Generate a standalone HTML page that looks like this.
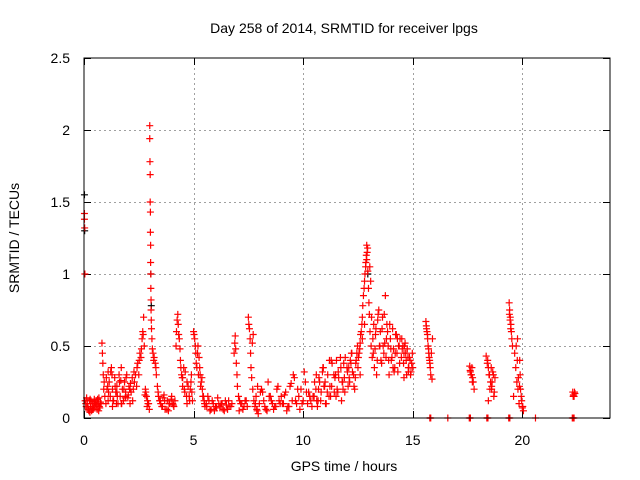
<!DOCTYPE html>
<html><head><meta charset="utf-8"><style>
body{margin:0;background:#fff}
svg{display:block;font-family:"Liberation Sans",sans-serif}
</style></head><body>
<svg id="chart" width="640" height="480" xmlns="http://www.w3.org/2000/svg">
<text x="344" y="33" font-size="14" text-anchor="middle" fill="#000">Day 258 of 2014, SRMTID for receiver lpgs</text>
<text x="0" y="0" font-size="14" text-anchor="middle" transform="translate(19,238) rotate(-90)">SRMTID / TECUs</text>
<text x="344" y="471" font-size="14" text-anchor="middle">GPS time / hours</text>
<g id="grid"></g>
<g id="ticks"></g>
<g id="black"></g>
<g id="red"></g>
<rect x="84" y="58" width="526" height="360" fill="none" stroke="#000" stroke-width="1"/>
</svg>
<script>
const xTicks=[0,5,10,15,20];
const yTicks=[0,0.5,1,1.5,2,2.5];
const yTickLabels=["0","0.5","1","1.5","2","2.5"];
const redTimes=[0.02,0.02,0.03,0.04,0.05,0.1,0.15,0.2,0.25,0.3,0.35,0.4,0.45,0.5,0.55,0.6,0.65,0.7,0.75,0.12,0.22,0.32,0.42,0.52,0.62,0.72,
0.82,0.84,0.86,0.88,0.9,0.92,0.95,1.0,1.05,1.1,1.15,1.2,1.25,1.3,1.35,1.4,1.45,1.5,1.55,1.6,1.65,1.7,1.75,1.8,1.85,1.9,1.95,2.0,2.05,2.1,2.15,2.2,2.25,1.1,1.3,1.5,1.7,1.9,2.1,
2.3,2.35,2.4,2.45,2.5,2.55,2.6,2.65,2.7,2.72,2.75,2.8,2.85,2.9,2.95,2.78,2.88,
3.0,3.0,3.01,3.02,3.02,3.03,3.03,3.04,3.04,3.05,3.05,3.06,3.06,3.07,3.08,3.1,
3.15,3.2,3.25,3.3,3.35,3.4,3.45,3.5,3.55,3.6,3.7,3.8,3.9,4.0,4.1,4.15,3.65,3.85,4.05,
4.2,4.22,4.25,4.28,4.3,4.32,4.35,4.4,4.45,4.5,4.55,4.6,4.7,4.8,4.9,4.95,4.5,4.7,4.85,
5.0,5.05,5.1,5.15,5.2,5.25,5.3,5.35,5.4,5.45,5.5,5.6,5.7,5.8,5.9,6.0,6.1,6.2,6.3,6.4,6.5,6.6,6.7,5.65,5.95,6.25,6.55,
6.85,6.88,6.9,6.92,6.95,6.98,7.0,7.05,7.1,7.2,7.3,7.4,
7.5,7.52,7.55,7.58,7.6,7.62,7.65,7.7,7.75,7.8,7.85,7.9,8.0,8.1,8.2,8.3,8.4,8.5,8.6,8.7,8.8,8.9,9.0,7.95,8.15,8.35,8.55,8.75,8.95,
9.1,9.2,9.3,9.4,9.5,9.6,9.7,9.8,9.9,10.0,10.1,10.2,10.3,10.4,9.25,9.55,9.85,10.15,10.35,
10.5,10.6,10.7,10.8,10.9,11.0,11.1,11.2,11.3,11.4,11.5,11.6,11.7,11.8,11.9,12.0,12.1,12.2,12.3,12.4,10.65,10.95,11.25,11.55,11.85,12.15,12.35,10.75,11.05,11.45,11.75,12.05,12.25,
12.5,12.55,12.6,12.65,12.7,12.75,12.8,12.85,12.88,12.9,12.92,12.95,12.98,13.0,13.02,13.05,13.1,13.15,12.6,12.7,12.8,
13.2,13.3,13.4,13.5,13.6,13.7,13.8,13.9,14.0,14.1,14.2,14.3,14.4,13.25,13.45,13.65,13.75,13.85,14.05,14.25,13.35,13.55,13.95,14.15,14.35,
14.5,14.55,14.6,14.65,14.7,14.75,14.8,14.85,14.9,14.95,15.0,14.6,14.8,
15.6,15.62,15.65,15.68,15.7,15.72,15.75,15.78,15.8,15.82,15.85,15.88,15.9,
17.6,17.63,17.66,17.7,17.73,17.76,17.8,
18.35,18.4,18.45,18.5,18.55,18.6,18.65,18.7,18.75,18.45,18.6,
19.4,19.42,19.45,19.48,19.5,19.52,19.55,19.6,19.65,19.7,19.75,19.8,19.85,19.9,19.95,20.0,20.05,19.78,19.88,
22.3,22.33,22.36,22.4,
15.78,15.8,15.82,17.58,17.6,17.63,18.38,18.4,18.43,19.38,19.4,19.43,22.28,22.3,22.33,22.36,16.6,20.6];
const redValues=[1.42,1.38,1.32,1.0,0.12,0.08,0.1,0.06,0.12,0.08,0.05,0.1,0.07,0.09,0.12,0.06,0.1,0.08,0.11,0.14,0.05,0.12,0.06,0.1,0.13,0.07,
0.52,0.45,0.38,0.3,0.2,0.25,0.15,0.1,0.2,0.32,0.25,0.15,0.35,0.2,0.12,0.28,0.18,0.22,0.1,0.3,0.15,0.35,0.2,0.12,0.25,0.18,0.3,0.14,0.22,0.1,0.18,0.28,0.2,0.12,0.08,0.18,0.1,0.15,0.2,
0.25,0.3,0.22,0.38,0.3,0.45,0.42,0.55,0.58,0.7,0.5,0.2,0.15,0.12,0.1,0.16,0.08,
2.03,1.94,1.78,1.69,1.5,1.43,1.29,1.2,1.08,1.0,0.9,0.82,0.75,0.68,0.62,0.55,
0.45,0.42,0.38,0.3,0.22,0.15,0.12,0.1,0.08,0.14,0.06,0.12,0.1,0.15,0.08,0.12,0.16,0.05,0.1,
0.5,0.6,0.68,0.72,0.65,0.58,0.55,0.4,0.3,0.22,0.35,0.18,0.25,0.15,0.3,0.12,0.28,0.1,0.2,
0.6,0.55,0.45,0.35,0.5,0.42,0.3,0.25,0.2,0.15,0.1,0.08,0.12,0.06,0.1,0.08,0.14,0.07,0.1,0.05,0.09,0.12,0.08,0.15,0.05,0.1,0.06,
0.45,0.52,0.57,0.48,0.38,0.3,0.22,0.15,0.12,0.1,0.08,0.12,
0.7,0.65,0.62,0.55,0.45,0.35,0.28,0.2,0.12,0.08,0.15,0.05,0.1,0.2,0.12,0.06,0.25,0.15,0.1,0.08,0.2,0.12,0.15,0.03,0.18,0.05,0.12,0.08,0.1,
0.1,0.18,0.08,0.22,0.12,0.28,0.1,0.15,0.2,0.12,0.25,0.1,0.15,0.08,0.05,0.3,0.06,0.18,0.12,
0.15,0.3,0.2,0.12,0.35,0.25,0.18,0.4,0.22,0.3,0.15,0.32,0.42,0.25,0.18,0.35,0.28,0.45,0.3,0.38,0.08,0.22,0.15,0.2,0.38,0.4,0.2,0.25,0.1,0.28,0.12,0.22,0.32,
0.35,0.45,0.52,0.6,0.7,0.85,0.95,1.05,1.13,1.2,1.15,1.02,0.9,0.8,0.72,0.6,0.5,0.42,0.3,0.55,0.65,
0.45,0.58,0.68,0.5,0.62,0.72,0.55,0.4,0.48,0.35,0.45,0.55,0.38,0.35,0.75,0.5,0.85,0.6,0.42,0.58,0.3,0.4,0.65,0.32,0.5,
0.55,0.5,0.45,0.52,0.4,0.48,0.35,0.42,0.3,0.38,0.35,0.28,0.32,
0.67,0.64,0.6,0.55,0.5,0.48,0.42,0.38,0.35,0.3,0.45,0.27,0.55,
0.36,0.32,0.3,0.35,0.28,0.25,0.2,
0.43,0.38,0.35,0.3,0.25,0.2,0.32,0.15,0.28,0.12,0.22,
0.8,0.75,0.7,0.65,0.6,0.55,0.5,0.15,0.45,0.35,0.25,0.2,0.1,0.3,0.15,0.07,0.05,0.55,0.4,
0.18,0.16,0.15,0.17,
0,0,0,0,0,0,0,0,0,0,0,0,0,0,0,0,0,0];
const extraTimes=[0.08,0.18,0.28,0.38,0.48,0.58,0.68,0.78,0.27,0.47,0.67,
1.02,1.12,1.22,1.32,1.42,1.52,1.62,1.72,1.82,1.92,2.02,2.12,2.22,1.08,1.28,1.48,1.68,1.88,2.08,2.28,
2.42,2.52,2.62,2.68,2.82,2.92,2.98,3.12,3.18,3.28,3.38,3.48,3.58,3.68,3.78,3.88,3.98,4.08,
4.38,4.42,4.48,4.58,4.62,4.68,4.75,4.82,4.88,4.92,5.02,5.08,5.12,5.18,5.22,5.28,5.32,5.38,5.42,5.48,5.52,5.58,5.75,5.85,6.05,6.15,6.35,6.45,6.62,6.75,
7.08,7.15,7.25,7.35,7.45,7.68,7.72,7.82,7.88,7.92,8.05,8.25,8.45,8.65,8.85,9.05,9.15,9.35,9.45,9.65,9.75,9.95,10.05,10.25,10.45,
10.52,10.62,10.72,10.82,10.92,11.02,11.12,11.22,11.32,11.42,11.52,11.62,11.72,11.82,11.92,12.02,12.12,12.22,12.32,12.42,12.48,
10.58,10.88,11.18,11.48,11.78,12.08,12.38,10.68,10.98,11.28,11.58,11.88,12.18,12.45,
12.52,12.58,12.62,12.68,12.72,12.78,12.82,12.86,12.9,12.94,13.04,13.08,13.12,13.18,13.22,13.28,13.32,13.38,13.42,13.48,13.52,13.58,13.62,13.68,13.72,13.78,13.82,13.88,13.92,13.98,14.02,14.08,14.12,14.18,14.22,14.28,14.32,14.38,14.42,14.48,14.52,14.58,14.62,14.68,14.72,14.78,14.82,14.88,14.92,14.98,
15.63,15.67,15.73,15.77,17.62,17.68,17.72,18.42,18.48,18.52,18.58,18.62,18.68,18.72,19.41,19.44,19.47,19.72,19.77,19.82,19.87,19.92,19.97,20.02,22.32,22.38];
const extraValues=[0.1,0.07,0.13,0.06,0.11,0.09,0.14,0.1,0.04,0.13,0.05,
0.28,0.18,0.32,0.12,0.22,0.15,0.25,0.1,0.2,0.28,0.16,0.24,0.12,0.22,0.3,0.1,0.26,0.14,0.2,0.32,
0.35,0.4,0.48,0.6,0.18,0.1,0.06,0.48,0.4,0.35,0.18,0.12,0.08,0.12,0.06,0.1,0.13,0.09,
0.48,0.35,0.28,0.2,0.32,0.15,0.22,0.12,0.25,0.18,0.58,0.5,0.38,0.45,0.3,0.35,0.22,0.28,0.15,0.12,0.08,0.1,0.05,0.12,0.07,0.1,0.06,0.12,0.08,0.1,
0.05,0.1,0.06,0.12,0.08,0.52,0.58,0.1,0.06,0.22,0.18,0.08,0.15,0.06,0.22,0.1,0.16,0.08,0.24,0.12,0.2,0.1,0.32,0.18,0.15,
0.25,0.12,0.28,0.18,0.35,0.1,0.3,0.22,0.38,0.18,0.4,0.28,0.35,0.2,0.42,0.32,0.25,0.45,0.22,0.4,0.5,
0.2,0.32,0.15,0.3,0.25,0.35,0.28,0.12,0.22,0.4,0.18,0.28,0.38,0.45,
0.42,0.48,0.58,0.65,0.78,0.9,1.0,1.08,1.1,1.18,1.05,0.95,0.7,0.55,0.65,0.48,0.62,0.4,0.72,0.5,0.6,0.38,0.7,0.45,0.52,0.42,0.65,0.5,0.3,0.55,0.4,0.62,0.48,0.35,0.58,0.45,0.32,0.5,0.55,0.42,0.48,0.38,0.5,0.45,0.3,0.42,0.35,0.4,0.32,0.45,
0.62,0.58,0.45,0.4,0.33,0.3,0.25,0.4,0.3,0.2,0.35,0.25,0.3,0.18,0.72,0.68,0.62,0.5,0.4,0.28,0.22,0.2,0.12,0.08,0.15,0.18];
const blackTimes=[0.02,0.03,3.05,3.07,12.95];
const blackValues=[1.55,1.3,1.0,0.78,1.0];
const X=t=>84+t*(526/24), Y=v=>418-v*144;
const NS="http://www.w3.org/2000/svg";
const grid=document.getElementById('grid'), ticks=document.getElementById('ticks');
function ln(g,x1,y1,x2,y2,st,dash){const l=document.createElementNS(NS,'line');l.setAttribute('x1',x1);l.setAttribute('y1',y1);l.setAttribute('x2',x2);l.setAttribute('y2',y2);l.setAttribute('stroke',st);if(dash)l.setAttribute('stroke-dasharray',dash);g.appendChild(l);return l;}
function tx(g,x,y,s,a){const t=document.createElementNS(NS,'text');t.setAttribute('x',x);t.setAttribute('y',y);t.setAttribute('font-size','14');t.setAttribute('text-anchor',a);t.textContent=s;g.appendChild(t);return t;}
xTicks.forEach(v=>{const x=Math.round(X(v))+0.5;
 if(v>0){const g=ln(grid,x,58,x,418,'#a0a0a0','2,3');}
 ln(ticks,x,418,x,411,'#000');ln(ticks,x,58,x,65,'#000');
 const t=tx(ticks,X(v),445,String(v),'middle');
 
 
});
yTicks.forEach((v,i)=>{const y=Math.round(Y(v))+0.5;
 if(v>0&&v<2.5){const g=ln(grid,84,y,610,y,'#a0a0a0','2,3');}
 ln(ticks,84,y,91,y,'#000');ln(ticks,610,y,603,y,'#000');
 const t=tx(ticks,70,Y(v)+5,yTickLabels[i],'end');
 
 
});
function plus(g,t,v,col,name){const x=X(t),y=Y(v);const p=document.createElementNS(NS,'path');
 p.setAttribute('d',`M${x-3.5} ${y}H${x+3.5}M${x} ${y-3.5}V${y+3.5}`);p.setAttribute('stroke',col);p.setAttribute('stroke-width','1.2');p.setAttribute('fill','none');
 
 
 g.appendChild(p);}
const bg=document.getElementById('black'), rg=document.getElementById('red');
blackTimes.forEach((t,i)=>plus(bg,t,blackValues[i],'#000','black-point'));
redTimes.forEach((t,i)=>plus(rg,t,redValues[i],'#ff0000','red-point'));
extraTimes.forEach((t,i)=>plus(rg,t,extraValues[i],'#ff0000','red-point'));
</script>
</body></html>
